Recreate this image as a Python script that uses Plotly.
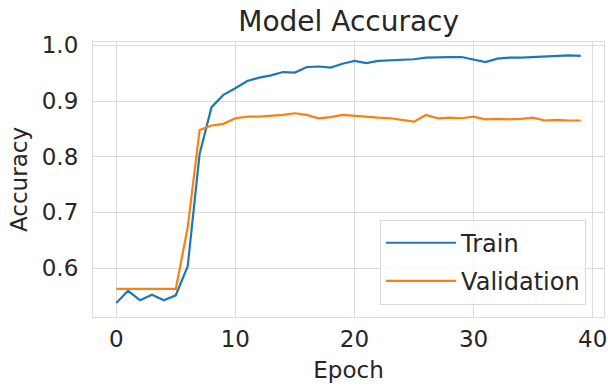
import plotly.graph_objects as go

epochs = list(range(40))
train_acc = [0.537, 0.559, 0.542, 0.552, 0.542, 0.551, 0.603, 0.805, 0.889, 0.911,
             0.923, 0.936, 0.942, 0.946, 0.952, 0.951, 0.961, 0.962, 0.960, 0.967,
             0.972, 0.968, 0.972, 0.973, 0.975, 0.975, 0.978, 0.979, 0.979, 0.979,
             0.974, 0.970, 0.976, 0.978, 0.978, 0.979, 0.980, 0.980, 0.982, 0.981]
val_acc = [0.5625, 0.5625, 0.5625, 0.5625, 0.5625, 0.5625, 0.673, 0.848, 0.856, 0.859,
           0.869, 0.872, 0.872, 0.873, 0.875, 0.878, 0.875, 0.869, 0.871, 0.875,
           0.873, 0.871, 0.870, 0.869, 0.866, 0.863, 0.875, 0.869, 0.870, 0.869,
           0.872, 0.867, 0.868, 0.867, 0.868, 0.870, 0.865, 0.866, 0.865, 0.865]
x_ticks = [0, 10, 20, 30, 40]
y_ticks = [0.6, 0.7, 0.8, 0.9, 1.0]

FONT = "DejaVu Sans"
TXT = "#262626"
GRID = "#dcdcdc"

fig = go.Figure()
fig.add_trace(go.Scatter(x=epochs, y=train_acc, mode="lines", name="Train",
                         line=dict(color="#1f77b4", width=2.2), legendgroup="a"))
fig.add_trace(go.Scatter(x=epochs, y=val_acc, mode="lines", name="Validation",
                         line=dict(color="#ff7f0e", width=2.2), legendgroup="b"))

fig.update_layout(
    width=608, height=387,
    margin=dict(l=93, r=4, t=42, b=70, autoexpand=False),
    paper_bgcolor="white", plot_bgcolor="white",
    font=dict(family=FONT, color=TXT, size=23),
    title=dict(text="Model Accuracy", font=dict(size=28, color=TXT, family=FONT),
               x=0.5735, xanchor="center", yref="container", y=1 - 21 / 387, yanchor="middle",
               automargin=False),
    showlegend=True,
    legend=dict(x=0.965, xanchor="right", y=0.045, yanchor="bottom",
                bgcolor="rgba(255,255,255,0.8)", bordercolor="#d8d8d8", borderwidth=1,
                font=dict(size=24, color=TXT, family=FONT), tracegroupgap=4,
                itemwidth=70),
    xaxis=dict(range=[-1.95, 40.95], tickvals=x_ticks, showgrid=True, gridcolor=GRID,
               gridwidth=1.2, zeroline=False, showline=True, linecolor=GRID, linewidth=1.2,
               mirror=True, ticks="", ticklabelstandoff=1, automargin=False,
               title=dict(text="Epoch", standoff=11, font=dict(size=23, color=TXT))),
    yaxis=dict(range=[0.512, 1.006], tickvals=y_ticks, ticktext=["0.6", "0.7", "0.8", "0.9", "1.0"],
               showgrid=True, gridcolor=GRID, gridwidth=1.2, zeroline=False, showline=True,
               linecolor=GRID, linewidth=1.2, mirror=True, ticks="", ticklabelstandoff=9,
               automargin=False,
               title=dict(text="Accuracy", standoff=7, font=dict(size=23, color=TXT))),
)

fig.write_html("out.html", config={"displayModeBar": False},
               post_script="document.body.style.margin='0';document.body.style.overflow='hidden';")
